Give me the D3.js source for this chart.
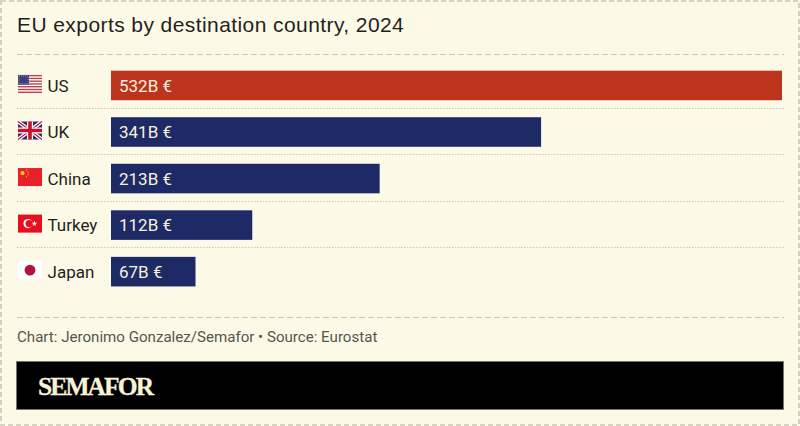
<!DOCTYPE html>
<html>
<head>
<meta charset="utf-8">
<title>EU exports by destination country, 2024</title>
<script src="https://cdn.jsdelivr.net/npm/d3@7"></script>
<style>
html, body { margin: 0; padding: 0; background: #fdf9e7; }
svg { display: block; }
</style>
</head>
<body>
<svg id="chart"></svg>
<script>
var countries = ["US", "UK", "China", "Turkey", "Japan"];
var exportsBn = [532, 341, 213, 112, 67];
var highlighted = ["US"];
var titleText = "EU exports by destination country, 2024";
var sourceText = "Chart: Jeronimo Gonzalez/Semafor \u2022 Source: Eurostat";
var brandText = "SEMAFOR";

var width = 800, height = 426;
var paper = "#fdf9e7", rule = "#c9c7b6", ink = "#1f1f1c";

var svg = d3.select("#chart").attr("width", width).attr("height", height);

var xScale = d3.scaleLinear().domain([0, d3.max(exportsBn)]).range([111, 782]);
var yScale = d3.scaleBand().domain(countries).range([62.3, 294.8]).paddingInner(0.365).paddingOuter(0.18);

// Outer dashed frame
svg.append("rect")
    .attr("width", width).attr("height", height)
    .attr("fill", paper);
svg.append("rect")
    .attr("x", 1).attr("y", 1)
    .attr("width", width - 2).attr("height", height - 2)
    .attr("fill", "none")
    .attr("stroke", rule)
    .attr("stroke-width", 1.6)
    .attr("stroke-dasharray", "5 3");

svg.append("text")
    .attr("x", 17).attr("y", 32)
    .attr("font-family", "Liberation Sans")
    .attr("font-size", 21)
    .attr("letter-spacing", 0.42)
    .attr("fill", ink)
    .text(titleText);

// Dashed rules above and below the chart
[54.5, 317.5].forEach(function(y) {
    svg.append("line")
        .attr("x1", 17).attr("x2", 784)
        .attr("y1", y).attr("y2", y)
        .attr("stroke", rule)
        .attr("stroke-width", 1)
        .attr("stroke-dasharray", "6 3");
});

// Dotted row separators
svg.selectAll("line.sep")
    .data(countries.slice(1))
    .enter()
    .append("line")
    .attr("class", "sep")
    .attr("x1", 17).attr("x2", 784)
    .attr("y1", d => Math.round(yScale(d) - yScale.step() * 0.18) - 0.5)
    .attr("y2", d => Math.round(yScale(d) - yScale.step() * 0.18) - 0.5)
    .attr("stroke", rule)
    .attr("stroke-width", 1)
    .attr("stroke-dasharray", "1.5 1.5");

var rows = countries.map((c, i) => ({ country: c, value: exportsBn[i] }));

svg.selectAll("rect.bar")
    .data(rows)
    .enter()
    .append("rect")
    .attr("class", "bar")
    .attr("x", xScale(0))
    .attr("y", d => yScale(d.country))
    .attr("width", d => xScale(d.value) - xScale(0))
    .attr("height", yScale.bandwidth())
    .attr("fill", d => highlighted.includes(d.country) ? "#bc341e" : "#1e2a66");

svg.selectAll("text.value")
    .data(rows)
    .enter()
    .append("text")
    .attr("class", "value")
    .attr("x", xScale(0) + 8)
    .attr("y", d => yScale(d.country) + yScale.bandwidth() / 2)
    .attr("dy", "0.36em")
    .attr("font-family", "Roboto")
    .attr("font-size", 17)
    .attr("fill", "#f6f2df")
    .text(d => d.value + "B \u20ac");

svg.selectAll("text.country")
    .data(rows)
    .enter()
    .append("text")
    .attr("class", "country")
    .attr("x", 47.5)
    .attr("y", d => yScale(d.country) + yScale.bandwidth() / 2)
    .attr("dy", "0.36em")
    .attr("font-family", "Roboto")
    .attr("font-size", 17)
    .attr("fill", ink)
    .text(d => d.country);

// Flags, 24x18, drawn inside a group placed by the band scale
var flagDraw = {
    US: function(g) {
        g.append("rect").attr("width", 24).attr("height", 18).attr("fill", "#fff");
        d3.range(0, 13, 2).forEach(function(i) {
            g.append("rect").attr("y", i * 18 / 13).attr("width", 24).attr("height", 18 / 13).attr("fill", "#b8404f");
        });
        g.append("rect").attr("width", 11).attr("height", 9.7).attr("fill", "#3c3f78");
        g.append("rect").attr("x", 1).attr("y", 1).attr("width", 9).attr("height", 7.7)
            .attr("fill", "none").attr("stroke", "#aab0d0").attr("stroke-width", 0.7).attr("stroke-dasharray", "1 1");
    },
    UK: function(g) {
        g.append("rect").attr("width", 24).attr("height", 18).attr("fill", "#2a2f72");
        g.append("path").attr("d", "M0,0L24,18M24,0L0,18").attr("stroke", "#fff").attr("stroke-width", 3.6);
        g.append("path").attr("d", "M0,0L24,18M24,0L0,18").attr("stroke", "#c8102e").attr("stroke-width", 1.2);
        g.append("path").attr("d", "M12,0V18M0,9H24").attr("stroke", "#fff").attr("stroke-width", 6);
        g.append("path").attr("d", "M12,0V18M0,9H24").attr("stroke", "#c8102e").attr("stroke-width", 3.6);
    },
    China: function(g) {
        g.append("rect").attr("width", 24).attr("height", 18).attr("fill", "#e8202a");
        g.append("circle").attr("cx", 4.5).attr("cy", 5).attr("r", 2.1).attr("fill", "#f8d020");
        [[8.5, 2], [10, 4], [10, 6.6], [8.5, 8.6]].forEach(function(p) {
            g.append("circle").attr("cx", p[0]).attr("cy", p[1]).attr("r", 0.6).attr("fill", "#f8d020");
        });
    },
    Turkey: function(g) {
        g.append("rect").attr("width", 24).attr("height", 18).attr("fill", "#e3101f");
        g.append("circle").attr("cx", 10).attr("cy", 9).attr("r", 4.6).attr("fill", "#fff");
        g.append("circle").attr("cx", 11.2).attr("cy", 9).attr("r", 3.7).attr("fill", "#e3101f");
        g.append("path").attr("d", d3.symbol(d3.symbolStar, 9)).attr("transform", "translate(16.5,9)").attr("fill", "#fff");
    },
    Japan: function(g) {
        g.append("rect").attr("width", 24).attr("height", 18).attr("fill", "#fff");
        g.append("circle").attr("cx", 12).attr("cy", 9).attr("r", 5.4).attr("fill", "#b5123f");
    }
};

svg.selectAll("g.flag")
    .data(rows)
    .enter()
    .append("g")
    .attr("class", "flag")
    .attr("transform", d => "translate(18," + (yScale(d.country) + yScale.bandwidth() / 2 - 10.5) + ")")
    .each(function(d) { flagDraw[d.country](d3.select(this)); });

svg.append("text")
    .attr("x", 17).attr("y", 342)
    .attr("font-family", "Roboto")
    .attr("font-size", 15.1)
    .attr("fill", "#55554e")
    .text(sourceText);

svg.append("rect")
    .attr("x", 16.5).attr("y", 361.5)
    .attr("width", 767).attr("height", 48)
    .attr("fill", "#000")
    .attr("stroke", "#77766c")
    .attr("stroke-width", 1);

svg.append("text")
    .attr("x", 38).attr("y", 394.5)
    .attr("font-family", "Liberation Serif")
    .attr("font-weight", "bold")
    .attr("font-size", 25.5)
    .attr("letter-spacing", -1.9)
    .attr("fill", "#f8f3d8")
    .attr("stroke", "#f8f3d8")
    .attr("stroke-width", 0.3)
    .text(brandText);
</script>
</body>
</html>
